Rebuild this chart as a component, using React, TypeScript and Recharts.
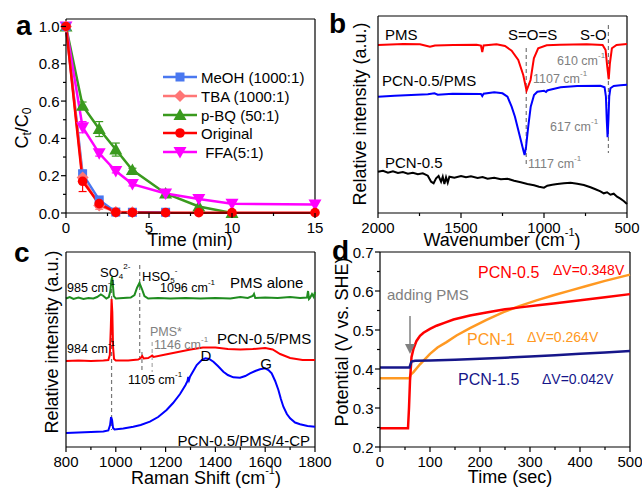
import React from "react";
import { LineChart, Line, XAxis, YAxis, ReferenceLine, ErrorBar } from "recharts";

const FONT = "'Liberation Sans', Arial, Helvetica, sans-serif";

// ---- a: degradation with scavengers (C/C0 vs min) ----
const timeMin = [0, 1, 2, 3, 4, 6, 8, 10, 15];
const meohVals = [1.0, 0.21, 0.07, 0.005, 0.004, 0.004];
const meohErr = [0, 0.02, 0.01, 0, 0, 0];
const tbaVals = [1.0, 0.19, 0.04, 0.005, 0.004];
const tbaErr = [0, 0.02, 0.02, 0, 0];
const pbqVals = [1.0, 0.575, 0.45, 0.34, 0.23, 0.105, 0.035, 0.0];
const pbqErr = [0, 0.02, 0.04, 0.035, 0.01, 0.01, 0, 0];
const origVals = [1.0, 0.17, 0.05, 0.004, 0.003, 0.002, 0.002, 0.002, 0.002];
const origErr = [0, 0.055, 0.02, 0, 0, 0, 0, 0, 0];
const ffaVals = [1.0, 0.46, 0.32, 0.225, 0.155, 0.105, 0.075, 0.05, 0.045];
const ffaErr = [0, 0.03, 0.015, 0.01, 0.01, 0, 0, 0, 0];

// ---- b: FTIR, [wavenumber, intensity a.u.] ----
const ftirPms = [
  [2000, 168], [1847, 169], [1747, 168.7], [1687, 166.3], [1657, 167.5], [1546, 168], [1406, 168.3],
  [1380, 167.5], [1372, 161], [1364, 167.5], [1286, 168.7], [1235, 167], [1195, 162.3], [1155, 153],
  [1125, 138], [1105, 122.3], [1081, 133], [1061, 154.7], [1035, 164.7], [984, 167.7], [904, 168.3],
  [743, 168.7], [647, 168], [629, 163], [619, 146.3], [610, 133.7], [603, 149.7], [591, 164.7],
  [563, 168], [500, 169],
];
const ftirPcnPms = [
  [2000, 116.3], [1900, 117.3], [1800, 118], [1700, 118.7], [1660, 119.7], [1640, 118.3], [1550, 119.3],
  [1380, 119], [1372, 117], [1364, 119.3], [1300, 120.7], [1250, 119.7], [1220, 116.3], [1195, 106.3],
  [1175, 96.3], [1155, 83], [1140, 73], [1125, 63], [1117, 58], [1108, 66.3], [1095, 86.3],
  [1080, 106.3], [1060, 118], [1040, 121.3], [1000, 122.3], [988, 121], [980, 122.5], [970, 123],
  [900, 125.7], [800, 127], [660, 127.3], [635, 125.7], [627, 116.3], [622, 93], [617, 75.7], [612, 93],
  [607, 116.3], [600, 124.7], [580, 127], [540, 127.7], [500, 128.3],
];
const ftirPcn = [
  [2000, 41.3], [1970, 42.3], [1940, 40.3], [1910, 41.7], [1880, 40], [1850, 41], [1820, 39.3],
  [1790, 40.3], [1760, 38.7], [1730, 39.7], [1700, 37.3], [1680, 31.3], [1665, 29.7], [1650, 34.7],
  [1635, 37], [1620, 31.3], [1610, 36.3], [1600, 29], [1590, 35.7], [1580, 30.3], [1570, 36.3],
  [1540, 35.3], [1500, 37], [1470, 35.7], [1440, 36.7], [1400, 35], [1370, 36], [1340, 34.3],
  [1300, 35.3], [1260, 33.7], [1220, 34.3], [1180, 32.3], [1140, 30.7], [1100, 29], [1060, 27.7],
  [1030, 26.3], [1000, 25.3], [980, 27.3], [950, 28.3], [920, 29], [880, 29.7], [840, 30.3],
  [800, 29.3], [760, 28], [720, 25.7], [690, 23.7], [660, 21.7], [640, 19.7], [620, 20.7],
  [600, 18.3], [580, 19.3], [560, 16.3], [540, 14.3], [520, 12], [500, 9],
];

// ---- c: Raman, [shift, intensity a.u.] ----
const ramanPms = [
  [800, 148.5], [815, 150], [830, 148], [850, 149.5], [870, 148], [890, 149], [910, 148.5], [925, 150],
  [940, 152.5], [950, 151], [962, 148.5], [972, 150], [978, 156], [982, 166], [985, 170], [988, 163],
  [992, 151], [1000, 148.5], [1030, 149], [1060, 149.5], [1075, 152], [1085, 159], [1095, 164],
  [1105, 158], [1115, 151], [1130, 148.5], [1170, 149], [1220, 148.5], [1280, 149], [1340, 148.5],
  [1400, 149], [1460, 148.5], [1500, 150], [1530, 149], [1550, 151], [1555, 153], [1560, 149],
  [1600, 149.5], [1650, 149], [1700, 150], [1740, 149], [1768, 149.5], [1772, 156], [1776, 148],
  [1780, 149], [1788, 153], [1795, 150], [1800, 155],
];
const ramanPcnPms = [
  [800, 86], [850, 86.5], [900, 86], [950, 86.5], [970, 87], [976, 92], [980, 120], [983, 148],
  [986, 135], [989, 100], [993, 88], [1000, 86.5], [1050, 86.5], [1090, 87.5], [1100, 89], [1106, 91],
  [1112, 88.5], [1130, 89], [1140, 90.5], [1146, 91.5], [1152, 90], [1200, 92.5], [1250, 95],
  [1300, 97.5], [1350, 99.5], [1400, 99.5], [1450, 98], [1500, 97.5], [1550, 98], [1600, 99],
  [1630, 97.5], [1660, 93], [1700, 89], [1750, 87], [1800, 87],
];
const ramanPcnPmsCp = [
  [800, 14], [850, 14.5], [900, 15], [950, 15.5], [970, 16.5], [977, 22], [981, 30], [985, 27],
  [989, 19], [995, 17.5], [1030, 18.5], [1070, 20.3], [1100, 22], [1137, 25.3], [1170, 30], [1204, 37],
  [1230, 44], [1258, 53], [1280, 62], [1288, 66], [1291, 70], [1294, 67], [1298, 70.3], [1325, 82],
  [1345, 87], [1360, 88.7], [1375, 88], [1392, 85.3], [1410, 81], [1432, 75.3], [1450, 72],
  [1472, 69.7], [1499, 69.3], [1520, 71], [1539, 73.7], [1560, 76], [1579, 77.7], [1599, 78.7],
  [1613, 77], [1626, 73.7], [1640, 66], [1653, 57], [1663, 48], [1673, 40.3], [1687, 33], [1700, 28.7],
  [1720, 24.5], [1740, 22.7], [1770, 21], [1800, 20.3],
];

// ---- d: open circuit potential, [sec, V vs SHE] ----
const ocpPcn05 = [
  [0, 0.248], [56, 0.248], [58, 0.3], [60, 0.37], [61.5, 0.4], [63, 0.43], [67, 0.452], [73, 0.472],
  [80, 0.485], [87, 0.493], [100, 0.503], [113, 0.511], [130, 0.519], [147, 0.527], [180, 0.537],
  [213, 0.545], [250, 0.553], [280, 0.558], [320, 0.564], [347, 0.568], [380, 0.573], [413, 0.578],
  [450, 0.584], [500, 0.592],
];
const ocpPcn1 = [
  [0, 0.376], [59, 0.376], [61, 0.385], [67, 0.392], [80, 0.412], [100, 0.439], [115, 0.455],
  [133, 0.469], [153, 0.486], [180, 0.505], [213, 0.526], [247, 0.546], [280, 0.562], [313, 0.576],
  [347, 0.589], [380, 0.601], [413, 0.613], [450, 0.626], [500, 0.642],
];
const ocpPcn15 = [
  [0, 0.404], [59, 0.404], [61, 0.412], [63, 0.419], [70, 0.421], [100, 0.422], [150, 0.424],
  [200, 0.426], [250, 0.429], [300, 0.432], [350, 0.435], [400, 0.439], [450, 0.442], [500, 0.446],
];

const pairs = (arr: number[][]) => arr.map(([x, y]) => ({ x, y }));
const withTime = (vals: number[], errs: number[]) =>
  vals.map((y, i) => ({ x: timeMin[i], y, e: errs[i] }));

// ---------- markers ----------
type Shape = "square" | "diamond" | "tri" | "circle" | "tridown";
function Marker({ cx, cy, shape, color }: { cx: number; cy: number; shape: Shape; color: string }) {
  if (cx == null || cy == null) return null;
  if (shape === "square") return <rect x={cx - 4.5} y={cy - 4.5} width={9} height={9} fill={color} />;
  if (shape === "circle") return <circle cx={cx} cy={cy} r={4.8} fill={color} />;
  if (shape === "diamond")
    return <polygon points={`${cx},${cy - 6} ${cx + 6},${cy} ${cx},${cy + 6} ${cx - 6},${cy}`} fill={color} />;
  if (shape === "tri")
    return <polygon points={`${cx},${cy - 6.5} ${cx + 6.5},${cy + 5} ${cx - 6.5},${cy + 5}`} fill={color} />;
  return <polygon points={`${cx},${cy + 6.5} ${cx + 6.5},${cy - 5} ${cx - 6.5},${cy - 5}`} fill={color} />;
}
const dotOf = (shape: Shape, color: string) => (p: any) =>
  <Marker key={`m-${shape}-${p.index}`} cx={p.cx} cy={p.cy} shape={shape} color={color} />;

// ---------- ticks (drawn by hand so minor ticks have no label) ----------
const near = (list: number[], v: number) => list.some((m) => Math.abs(m - v) < 1e-6);

function bottomTick(majors: number[], fmt: (v: number) => string) {
  return (p: any) => {
    const v = p.payload.value;
    const major = near(majors, v);
    return (
      <g key={`bt-${v}`}>
        <line x1={p.x} y1={p.y} x2={p.x} y2={p.y + (major ? 5 : 3)} stroke="#000" strokeWidth={1.2} />
        {major && (
          <text x={p.x} y={p.y + 14.5} textAnchor="middle" dominantBaseline="central" fontSize={15} fontFamily={FONT} fill="#000">
            {fmt(v)}
          </text>
        )}
      </g>
    );
  };
}
function leftTick(majors: number[], fmt: (v: number) => string) {
  return (p: any) => {
    const v = p.payload.value;
    const major = near(majors, v);
    return (
      <g key={`lt-${v}`}>
        <line x1={p.x} y1={p.y} x2={p.x - (major ? 5 : 3)} y2={p.y} stroke="#000" strokeWidth={1.2} />
        {major && (
          <text x={p.x - 6.5} y={p.y} textAnchor="end" dominantBaseline="central" fontSize={15} fontFamily={FONT} fill="#000">
            {fmt(v)}
          </text>
        )}
      </g>
    );
  };
}

// chart placed so its plot area lands on (left, top, w, h)
const YW = 40, XH = 34, MT = 10, MR = 22;
function Frame({ left, top, w, h, children }: { left: number; top: number; w: number; h: number; children: (size: any) => React.ReactNode }) {
  return (
    <div style={{ position: "absolute", left: left - YW, top: top - MT }}>
      {children({ width: w + YW + MR, height: h + MT + XH, margin: { top: MT, right: MR, bottom: 0, left: 0 } })}
    </div>
  );
}

const axisLine = { stroke: "#000", strokeWidth: 1.2 };
const dashed = { stroke: "#777", strokeDasharray: "4 3", strokeWidth: 1.2 };

function PanelA() {
  const xt = [0, 2.5, 5, 7.5, 10, 12.5, 15];
  const yt = [0, 0.1, 0.2, 0.3, 0.4, 0.5, 0.6, 0.7, 0.8, 0.9, 1.0];
  const series = [
    { key: "pbq", vals: pbqVals, errs: pbqErr, color: "#3a9a1e", shape: "tri" as Shape },
    { key: "ffa", vals: ffaVals, errs: ffaErr, color: "#ff00ff", shape: "tridown" as Shape },
    { key: "meoh", vals: meohVals, errs: meohErr, color: "#4a78f0", shape: "square" as Shape },
    { key: "tba", vals: tbaVals, errs: tbaErr, color: "#ff7676", shape: "diamond" as Shape },
    { key: "orig", vals: origVals, errs: origErr, color: "#ff0000", shape: "circle" as Shape },
  ];
  return (
    <Frame left={66} top={19} w={249} h={194}>
      {(s) => (
        <LineChart {...s}>
          <XAxis dataKey="x" type="number" domain={[0, 15]} ticks={xt} interval={0} height={XH}
            tickSize={0} tickMargin={0} tickLine={false} axisLine={axisLine} tick={bottomTick([0, 5, 10, 15], (v) => String(v))} />
          <YAxis type="number" domain={[0, 1.04]} ticks={yt} interval={0} width={YW}
            tickSize={0} tickMargin={0} tickLine={false} axisLine={axisLine} tick={leftTick([0, 0.2, 0.4, 0.6, 0.8, 1.0], (v) => v.toFixed(1))} />
          <ReferenceLine y={1.04} stroke="#000" strokeWidth={1.2} />
          <ReferenceLine x={15} stroke="#000" strokeWidth={1.2} />
          {series.map((sr) => (
            <Line key={sr.key} data={withTime(sr.vals, sr.errs)} dataKey="y" stroke={sr.color} strokeWidth={2.5}
              dot={dotOf(sr.shape, sr.color)} activeDot={false} isAnimationActive={false}>
              <ErrorBar dataKey="e" width={4} stroke={sr.color} strokeWidth={1.2} direction="y" isAnimationActive={false} />
            </Line>
          ))}
        </LineChart>
      )}
    </Frame>
  );
}

function PanelB() {
  return (
    <Frame left={378} top={16} w={249} h={197}>
      {(s) => (
        <LineChart {...s}>
          <XAxis dataKey="x" type="number" domain={[500, 2000]} reversed ticks={[2000, 1750, 1500, 1250, 1000, 750, 500]}
            interval={0} height={XH} tickSize={0} tickMargin={0} tickLine={false} axisLine={axisLine}
            tick={bottomTick([2000, 1500, 1000, 500], (v) => String(v))} />
          <YAxis type="number" domain={[0, 197]} width={YW} tick={false} tickLine={false} axisLine={axisLine} />
          <ReferenceLine y={197} stroke="#000" strokeWidth={1.2} />
          <ReferenceLine x={500} stroke="#000" strokeWidth={1.2} />
          <ReferenceLine segment={[{ x: 1107, y: 165 }, { x: 1107, y: 48 }]} {...dashed} />
          <ReferenceLine segment={[{ x: 612, y: 188 }, { x: 612, y: 60 }]} {...dashed} />
          <Line data={pairs(ftirPcn)} dataKey="y" stroke="#000" strokeWidth={2} dot={false} activeDot={false} isAnimationActive={false} />
          <Line data={pairs(ftirPcnPms)} dataKey="y" stroke="#0000ff" strokeWidth={2} dot={false} activeDot={false} isAnimationActive={false} />
          <Line data={pairs(ftirPms)} dataKey="y" stroke="#ff0000" strokeWidth={2} dot={false} activeDot={false} isAnimationActive={false} />
        </LineChart>
      )}
    </Frame>
  );
}

function PanelC() {
  return (
    <Frame left={66} top={252} w={249} h={195}>
      {(s) => (
        <LineChart {...s}>
          <XAxis dataKey="x" type="number" domain={[800, 1800]}
            ticks={[800, 900, 1000, 1100, 1200, 1300, 1400, 1500, 1600, 1700, 1800]}
            interval={0} height={XH} tickSize={0} tickMargin={0} tickLine={false} axisLine={axisLine}
            tick={bottomTick([800, 1000, 1200, 1400, 1600, 1800], (v) => String(v))} />
          <YAxis type="number" domain={[0, 195]} width={YW} tick={false} tickLine={false} axisLine={axisLine} />
          <ReferenceLine y={195} stroke="#000" strokeWidth={1.2} />
          <ReferenceLine x={1800} stroke="#000" strokeWidth={1.2} />
          <ReferenceLine segment={[{ x: 983, y: 165 }, { x: 983, y: 17 }]} {...dashed} />
          <ReferenceLine segment={[{ x: 1096, y: 182 }, { x: 1096, y: 84 }]} {...dashed} />
          <ReferenceLine segment={[{ x: 1105, y: 95 }, { x: 1105, y: 74 }]} {...dashed} />
          <ReferenceLine segment={[{ x: 1146, y: 105 }, { x: 1146, y: 75 }]} stroke="#aaa" strokeDasharray="4 3" strokeWidth={1.2} />
          <Line data={pairs(ramanPcnPmsCp)} dataKey="y" stroke="#0000ff" strokeWidth={2} dot={false} activeDot={false} isAnimationActive={false} />
          <Line data={pairs(ramanPcnPms)} dataKey="y" stroke="#ff0000" strokeWidth={2} dot={false} activeDot={false} isAnimationActive={false} />
          <Line data={pairs(ramanPms)} dataKey="y" stroke="#1f8c1f" strokeWidth={2} dot={false} activeDot={false} isAnimationActive={false} />
        </LineChart>
      )}
    </Frame>
  );
}

function PanelD() {
  return (
    <Frame left={380} top={252} w={250} h={195}>
      {(s) => (
        <LineChart {...s}>
          <XAxis dataKey="x" type="number" domain={[0, 500]} ticks={[0, 50, 100, 150, 200, 250, 300, 350, 400, 450, 500]}
            interval={0} height={XH} tickSize={0} tickMargin={0} tickLine={false} axisLine={axisLine}
            tick={bottomTick([0, 100, 200, 300, 400, 500], (v) => String(v))} />
          <YAxis type="number" domain={[0.2, 0.7]} ticks={[0.2, 0.25, 0.3, 0.35, 0.4, 0.45, 0.5, 0.55, 0.6, 0.65, 0.7]}
            interval={0} width={YW} tickSize={0} tickMargin={0} tickLine={false} axisLine={axisLine}
            tick={leftTick([0.2, 0.3, 0.4, 0.5, 0.6, 0.7], (v) => v.toFixed(1))} />
          <ReferenceLine y={0.7} stroke="#000" strokeWidth={1.2} />
          <ReferenceLine x={500} stroke="#000" strokeWidth={1.2} />
          <Line data={pairs(ocpPcn1)} dataKey="y" stroke="#ff9922" strokeWidth={2.5} dot={false} activeDot={false} isAnimationActive={false} />
          <Line data={pairs(ocpPcn05)} dataKey="y" stroke="#ff0000" strokeWidth={2.5} dot={false} activeDot={false} isAnimationActive={false} />
          <Line data={pairs(ocpPcn15)} dataKey="y" stroke="#16168a" strokeWidth={2.5} dot={false} activeDot={false} isAnimationActive={false} />
        </LineChart>
      )}
    </Frame>
  );
}

// ---------- text overlay ----------
function T({ x, y, size = 15, fill = "#000", anchor = "start", rot, bold, children }: any) {
  return (
    <text x={x} y={y} fontSize={size} fill={fill} textAnchor={anchor} dominantBaseline="central" fontFamily={FONT}
      fontWeight={bold ? "bold" : "normal"} transform={rot ? `rotate(${rot} ${x} ${y})` : undefined}>
      {children}
    </text>
  );
}
const Cm = ({ s = 8 }: { s?: number }) => (<>cm<tspan dy={-s * 0.75} fontSize={s}>-1</tspan></>);

const legendRows = [
  { label: "MeOH (1000:1)", color: "#4a78f0", shape: "square" as Shape },
  { label: "TBA (1000:1)", color: "#ff7676", shape: "diamond" as Shape },
  { label: "p-BQ (50:1)", color: "#3a9a1e", shape: "tri" as Shape },
  { label: "Original", color: "#ff0000", shape: "circle" as Shape },
  { label: "\u00a0FFA(5:1)", color: "#ff00ff", shape: "tridown" as Shape },
];
const legendY = [77, 96, 115, 133, 152];

function Overlay() {
  const gray = "#808080";
  return (
    <svg width={642} height={488} style={{ position: "absolute", left: 0, top: 0, pointerEvents: "none" }}>
      {/* a */}
      <T x={16} y={25} size={28} bold>a</T>
      <T x={22} y={128} size={18} rot={-90} anchor="middle">
        C<tspan dy={5} fontSize={12}>t</tspan><tspan dy={-5}>/C</tspan><tspan dy={5} fontSize={12}>0</tspan>
      </T>
      <T x={190} y={240} size={18} anchor="middle">Time (min)</T>
      {legendRows.map((r, i) => (
        <g key={r.label}>
          <line x1={163} x2={197} y1={legendY[i]} y2={legendY[i]} stroke={r.color} strokeWidth={2.5} />
          <Marker cx={180} cy={legendY[i]} shape={r.shape} color={r.color} />
          <T x={201} y={legendY[i]} size={15}>{r.label}</T>
        </g>
      ))}

      {/* b */}
      <T x={329} y={23} size={28} bold>b</T>
      <T x={360} y={114} size={18} rot={-90} anchor="middle">Relative intensity (a.u.)</T>
      <T x={502} y={240} size={18} anchor="middle">Wavenumber (<Cm s={11} /><tspan dy={8}>)</tspan></T>
      <T x={385} y={34}>PMS</T>
      <T x={508} y={34}>S=O=S</T>
      <T x={580} y={34}>S-O</T>
      <T x={557} y={61} size={12.5} fill={gray}>610 <Cm /></T>
      <T x={533} y={79} size={12.5} fill={gray}>1107 <Cm /></T>
      <T x={382} y={80}>PCN-0.5/PMS</T>
      <T x={550} y={127} size={12.5} fill={gray}>617 <Cm /></T>
      <T x={528} y={164} size={12.5} fill={gray}>1117 <Cm /></T>
      <T x={385} y={162}>PCN-0.5</T>

      {/* c */}
      <T x={14} y={252} size={28} bold>c</T>
      <T x={52} y={342} size={18} rot={-90} anchor="middle">Relative intensity (a.u.)</T>
      <T x={206} y={478} size={18} anchor="middle">Raman Shift (<Cm s={11} /><tspan dy={8}>)</tspan></T>
      <T x={100} y={272} size={13}>SO<tspan dy={4} fontSize={8}>4</tspan><tspan dy={-10} fontSize={8}>2-</tspan></T>
      <T x={142} y={276} size={13}>HSO<tspan dy={4} fontSize={8}>5</tspan><tspan dy={-10} fontSize={8}>-</tspan></T>
      <T x={67} y={288} size={12.5}>985 <Cm /></T>
      <T x={160} y={288} size={12.5}>1096 <Cm /></T>
      <T x={230} y={282}>PMS alone</T>
      <T x={150} y={332} size={12.5} fill={gray}>PMS*</T>
      <T x={154} y={345} size={12.5} fill={gray}>1146 <Cm /></T>
      <T x={217} y={338}>PCN-0.5/PMS</T>
      <T x={67} y={349} size={12.5}>984 <Cm /></T>
      <T x={206} y={355} anchor="middle">D</T>
      <T x={266} y={363} anchor="middle">G</T>
      <T x={128} y={380} size={12.5}>1105 <Cm /></T>
      <T x={310} y={440} anchor="end">PCN-0.5/PMS/4-CP</T>

      {/* d */}
      <T x={332} y={250} size={28} bold>d</T>
      <T x={342} y={342} size={18} rot={-90} anchor="middle">Potential (V vs. SHE)</T>
      <T x={510} y={477} size={18} anchor="middle">Time (sec)</T>
      <T x={478} y={272} size={16} fill="#ff0000">PCN-0.5</T>
      <T x={553} y={270} size={14} fill="#ff0000">ΔV=0.348V</T>
      <T x={387} y={294} fill={gray}>adding PMS</T>
      <line x1={410} y1={316} x2={410} y2={346} stroke={gray} strokeWidth={1.5} />
      <polygon points="405,344 415,344 410,354" fill={gray} />
      <T x={467} y={339} size={16} fill="#ff9922">PCN-1</T>
      <T x={527} y={337} size={14} fill="#ff9922">ΔV=0.264V</T>
      <T x={458} y={379} size={16} fill="#16168a">PCN-1.5</T>
      <T x={542} y={379} size={14} fill="#16168a">ΔV=0.042V</T>
    </svg>
  );
}

export default function App() {
  return (
    <div style={{ position: "absolute", left: 0, top: 0, width: 642, height: 488, background: "#fff", overflow: "hidden", fontFamily: FONT }}>
      <PanelA />
      <PanelB />
      <PanelC />
      <PanelD />
      <Overlay />
    </div>
  );
}
